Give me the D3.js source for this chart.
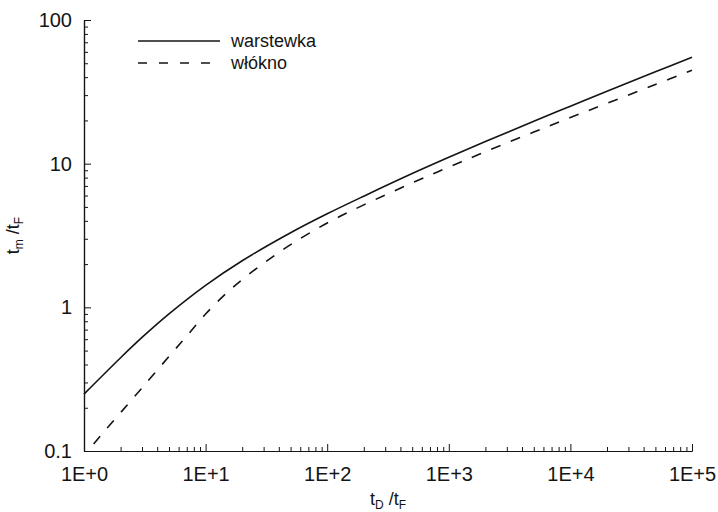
<!DOCTYPE html>
<html>
<head>
<meta charset="utf-8">
<script src="https://cdn.jsdelivr.net/npm/d3@7"></script>
<style>
  html, body { margin: 0; padding: 0; background: #fff; }
  svg { display: block; font-family: "Liberation Sans", Arial, Helvetica, sans-serif; }
</style>
</head>
<body>
<svg id="chart" width="718" height="512"></svg>
<script>
// t_D/t_F values and t_m/t_F for the layer ("warstewka") solution
const xWarstewka = [1, 2, 3, 5, 10, 20, 50, 100, 200, 500, 1000, 2000, 5000, 10000, 20000, 50000, 100000];
const yWarstewka = [0.249, 0.446, 0.617, 0.900, 1.422, 2.109, 3.304, 4.477, 5.94, 8.53, 11.07, 14.26, 19.73, 25.12, 31.9, 43.55, 54.95];

// t_D/t_F values and t_m/t_F for the fibre ("włókno") solution
const xWlokno = [1.2, 1.5, 2, 3, 5, 7, 10, 15, 20, 30, 50, 100, 200, 500, 1000, 2000, 5000, 10000, 20000, 50000, 100000];
const yWlokno = [0.112, 0.140, 0.185, 0.275, 0.455, 0.632, 0.898, 1.268, 1.560, 2.028, 2.729, 3.864, 5.164, 7.345, 9.46, 12.11, 16.60, 20.94, 26.30, 35.56, 44.67];

const seriesNames = ["warstewka", "włókno"];

const xTicks = [1, 10, 100, 1000, 10000, 100000];
const xTickLabels = ["1E+0", "1E+1", "1E+2", "1E+3", "1E+4", "1E+5"];
const yTicks = [0.1, 1, 10, 100];
const yTickLabels = ["0.1", "1", "10", "100"];

const svg = d3.select("#chart");
const margin = { left: 84, right: 26, top: 20, bottom: 61 };
const W = 718, H = 512;

const x = d3.scaleLog().domain([1, 100000]).range([margin.left, W - margin.right]);
const y = d3.scaleLog().domain([0.1, 100]).range([H - margin.bottom, margin.top]);

const ink = "#141414";

// minor ticks (2..9 inside each decade)
const minorX = x.ticks().filter(v => !xTicks.includes(v));
const minorY = y.ticks().filter(v => !yTicks.some(t => Math.abs(t - v) < 1e-9));

const gx = svg.append("g").attr("transform", `translate(0,${y.range()[0]})`);
gx.call(d3.axisBottom(x).tickValues(minorX).tickFormat("").tickSizeInner(-4).tickSizeOuter(0));
const gx2 = svg.append("g").attr("transform", `translate(0,${y.range()[0]})`);
gx2.call(d3.axisBottom(x).tickValues(xTicks)
  .tickFormat((d, i) => xTickLabels[i]).tickSizeInner(-7).tickSizeOuter(0).tickPadding(16));

const gy = svg.append("g").attr("transform", `translate(${x.range()[0]},0)`);
gy.call(d3.axisLeft(y).tickValues(minorY).tickFormat("").tickSizeInner(-4).tickSizeOuter(0));
const gy2 = svg.append("g").attr("transform", `translate(${x.range()[0]},0)`);
gy2.call(d3.axisLeft(y).tickValues(yTicks)
  .tickFormat((d, i) => yTickLabels[i]).tickSizeInner(-7).tickSizeOuter(0).tickPadding(12));

svg.selectAll(".domain").attr("stroke", ink).attr("stroke-width", 1.2);
svg.selectAll(".tick line").attr("stroke", ink).attr("stroke-width", 1);
svg.selectAll(".tick text").attr("fill", ink).style("font-size", "20px")
  .style("font-family", "'Liberation Sans', Arial, sans-serif");

// curves
const line = d3.line().x(d => x(d[0])).y(d => y(d[1])).curve(d3.curveCatmullRom.alpha(0.5));

svg.append("path")
  .datum(d3.zip(xWarstewka, yWarstewka))
  .attr("d", line)
  .attr("fill", "none")
  .attr("stroke", ink)
  .attr("stroke-width", 1.6);

svg.append("path")
  .datum(d3.zip(xWlokno, yWlokno))
  .attr("d", line)
  .attr("fill", "none")
  .attr("stroke", ink)
  .attr("stroke-width", 1.6)
  .attr("stroke-dasharray", "10,11");

// legend
const legend = svg.append("g");
const legendRows = [
  { name: seriesNames[0], dash: null, y: 41 },
  { name: seriesNames[1], dash: "9,12", y: 63 }
];
legendRows.forEach(r => {
  legend.append("line")
    .attr("x1", 138).attr("x2", 220).attr("y1", r.y).attr("y2", r.y)
    .attr("stroke", ink).attr("stroke-width", 1.6)
    .attr("stroke-dasharray", r.dash);
  legend.append("text")
    .attr("x", 231).attr("y", r.y + 6)
    .attr("fill", ink).style("font-size", "18px")
    .text(r.name);
});

// axis titles with subscripts
const xTitle = svg.append("text")
  .attr("x", (x.range()[0] + x.range()[1]) / 2).attr("y", 505)
  .attr("text-anchor", "middle").attr("fill", ink).style("font-size", "18px");
xTitle.append("tspan").text("t");
xTitle.append("tspan").attr("dy", 4).style("font-size", "12px").text("D");
xTitle.append("tspan").attr("dy", -4).text(" /t");
xTitle.append("tspan").attr("dy", 4).style("font-size", "12px").text("F");

const yTitle = svg.append("text")
  .attr("transform", `translate(19,${(y.range()[0] + y.range()[1]) / 2}) rotate(-90)`)
  .attr("text-anchor", "middle").attr("fill", ink).style("font-size", "18px");
yTitle.append("tspan").text("t");
yTitle.append("tspan").attr("dy", 4).style("font-size", "12px").text("m");
yTitle.append("tspan").attr("dy", -4).text(" /t");
yTitle.append("tspan").attr("dy", 4).style("font-size", "12px").text("F");
</script>
</body>
</html>
